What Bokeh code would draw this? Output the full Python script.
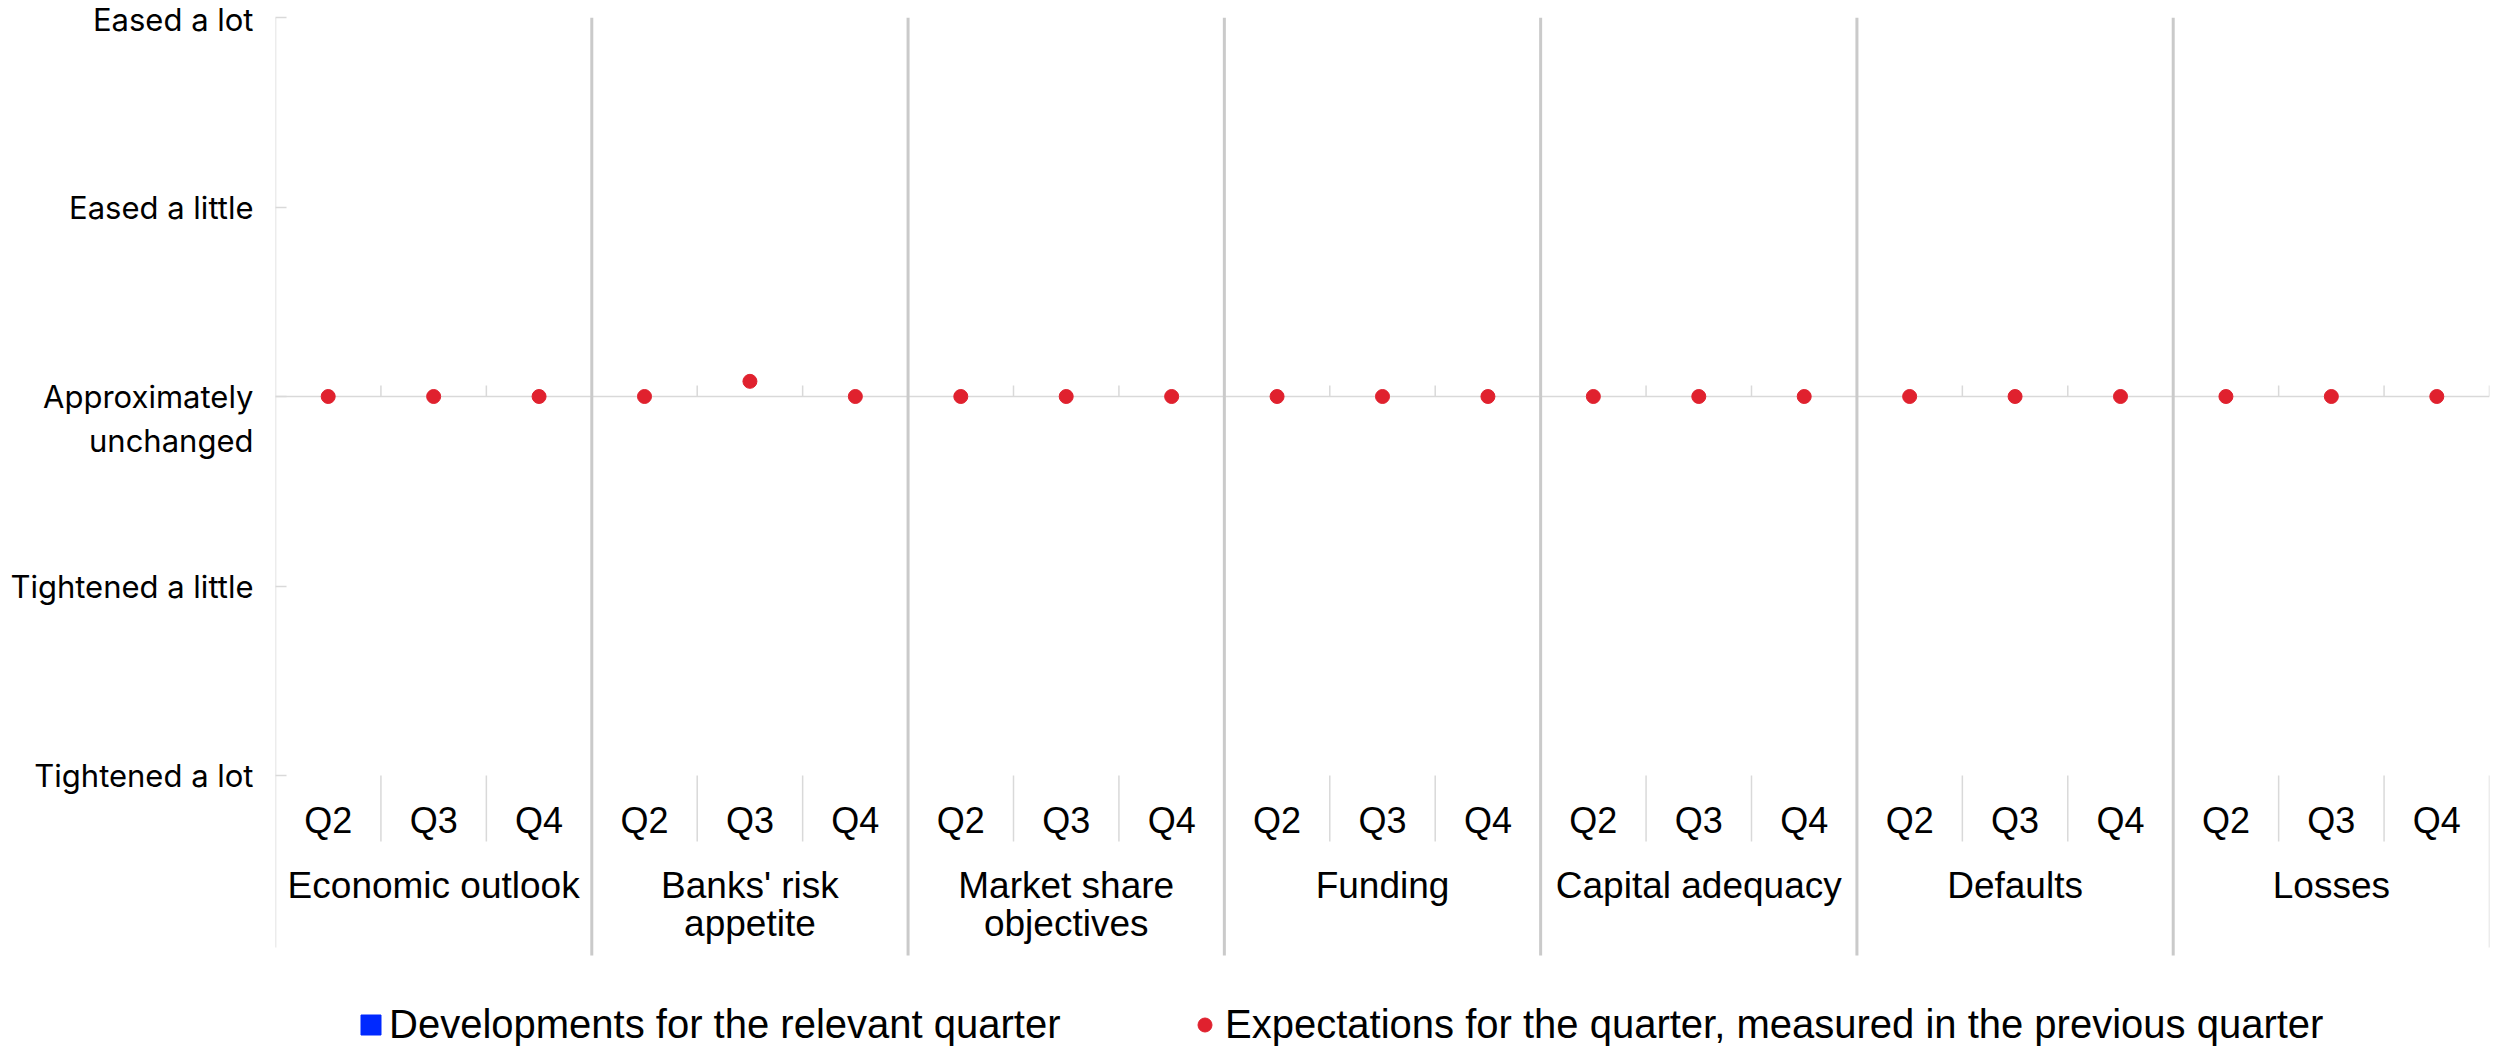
from bokeh.plotting import figure
from bokeh.models import FactorRange, Range1d, FixedTicker, Legend, LegendItem
from bokeh.core.properties import value
from bokeh.embed import file_html
from bokeh.resources import INLINE

nan = float("nan")

# ---------------- data ----------------
groups = ["Economic outlook", "Banks' risk appetite", "Market share objectives",
          "Funding", "Capital adequacy", "Defaults", "Losses"]
group_labels = ["Economic outlook", "Banks' risk\nappetite", "Market share\nobjectives",
                "Funding", "Capital adequacy", "Defaults", "Losses"]
quarters = ["Q2", "Q3", "Q4"]

# expectations for the quarter, measured in the previous quarter (one value per group/quarter)
expectations = [0.0, 0.0, 0.0,
                0.0, 0.08, 0.0,
                0.0, 0.0, 0.0,
                0.0, 0.0, 0.0,
                0.0, 0.0, 0.0,
                0.0, 0.0, 0.0,
                0.0, 0.0, 0.0]
# developments for the relevant quarter (no values shown in the chart)
developments = [nan, nan, nan,
                nan, nan, nan,
                nan, nan, nan,
                nan, nan, nan,
                nan, nan, nan,
                nan, nan, nan,
                nan, nan, nan]

y_ticks = [2, 1, 0, -1, -2]
y_labels = ["Eased a lot", "Eased a little", "Approximately\nunchanged",
            "Tightened a little", "Tightened a lot"]
series_names = ["Developments for the relevant quarter",
                "Expectations for the quarter, measured in the previous quarter"]

# ---------------- layout constants ----------------
W, H = 2504, 1047
BORDER_L, BORDER_R, BORDER_T = 275, 15, 17
FRAME_TOP_PAGE = BORDER_T           # page y of value +2
PX_PER_UNIT = 189.5


def ydata(page_y):
    return 2 - (page_y - FRAME_TOP_PAGE) / PX_PER_UNIT


factors = [(g, q) for g in groups for q in quarters]
n_cat = len(factors)
n_q = len(quarters)

GRID = "#D9D9D9"
SEP = "#CACACA"
RED = "#E0212E"
BLUE = "#0029FF"

p = figure(width=W, height=H,
           x_range=FactorRange(factors=factors, factor_padding=0, group_padding=0,
                               subgroup_padding=0, range_padding=0),
           y_range=Range1d(ydata(H), 2),
           x_axis_location=None, output_backend="svg", toolbar_location=None,
           min_border_left=BORDER_L, min_border_right=BORDER_R,
           min_border_top=BORDER_T, min_border_bottom=0,
           outline_line_color=None, background_fill_color="white")
p.grid.visible = False

# y axis
ya = p.yaxis[0]
ya.ticker = FixedTicker(ticks=y_ticks)
ya.major_label_overrides = {t: ("\n" + l if "\n" in l else l) for t, l in zip(y_ticks, y_labels)}
ya.major_label_text_font = "Inter"
ya.major_label_text_font_size = "31px"
ya.major_label_text_color = "black"
ya.major_label_standoff = 22
ya.major_tick_in = 11
ya.major_tick_out = 0
ya.major_tick_line_color = GRID
ya.major_tick_line_width = 1.5
ya.minor_tick_line_color = None
ya.axis_line_color = None

# structural lines (synthetic categorical coordinates: 0 .. n_cat)
y_top = y_ticks[0]
y_bot = y_ticks[-1]
tick_h = 11 / PX_PER_UNIT
# left axis line
p.segment(x0=[0], y0=[y_top], x1=[0], y1=[ydata(947)], line_color=GRID, line_width=1.5)
# zero line
p.segment(x0=[0], y0=[0], x1=[n_cat], y1=[0], line_color=GRID, line_width=1.5)
# small ticks on zero line at category boundaries
bx = list(range(1, n_cat + 1))
p.segment(x0=bx, y0=[0] * len(bx), x1=bx, y1=[tick_h] * len(bx), line_color=GRID, line_width=1.5)
# thin ticks between quarter labels
sub_b = [i for i in range(1, n_cat) if i % n_q != 0]
p.segment(x0=sub_b, y0=[y_bot] * len(sub_b), x1=sub_b, y1=[ydata(841)] * len(sub_b),
          line_color=GRID, line_width=1.5)
# right end line in label area
p.segment(x0=[n_cat], y0=[y_bot], x1=[n_cat], y1=[ydata(947)], line_color=GRID, line_width=1.5)
# group separators
grp_b = [i for i in range(n_q, n_cat, n_q)]
p.segment(x0=grp_b, y0=[y_top] * len(grp_b), x1=grp_b, y1=[ydata(955)] * len(grp_b),
          line_color=SEP, line_width=3)

# data
bars = p.vbar(x=factors, top=developments, bottom=0, width=0.5, color=BLUE)
dots = p.scatter(x=factors, y=expectations, size=14, color=RED)

# category labels
p.text(x=factors, y=[ydata(820)] * n_cat, text=[q for g, q in factors],
       text_align="center", text_baseline="middle",
       text_font=value("Liberation Sans"), text_font_size=value("36px"), text_color="black")
p.text(x=[(g, quarters[1]) for g in groups], y=[ydata(864)] * len(groups), text=group_labels,
       text_align="center", text_baseline="top", text_line_height=0.95,
       text_font=value("Liberation Sans"), text_font_size=value("37px"), text_color="black")

# legends
common = dict(orientation="horizontal", border_line_color=None, background_fill_alpha=0,
              padding=0, margin=0, spacing=0,
              label_text_font="Liberation Sans", label_text_font_size="40px",
              label_text_color="black")
leg1 = Legend(items=[LegendItem(label=series_names[0], renderers=[bars])],
              location=(358 - BORDER_L, 0), glyph_width=25, glyph_height=25, label_standoff=6, **common)
leg2 = Legend(items=[LegendItem(label=series_names[1], renderers=[dots])],
              location=(1187 - BORDER_L, 0), glyph_width=35, glyph_height=35, label_standoff=3, **common)
p.add_layout(leg1)
p.add_layout(leg2)

open("out.html", "w").write(file_html(p, INLINE))
